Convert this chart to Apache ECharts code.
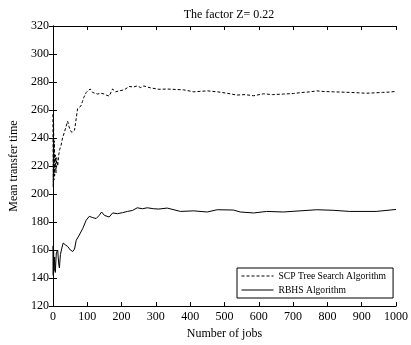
<!DOCTYPE html>
<html>
<head>
<meta charset="utf-8">
<script src="https://cdn.jsdelivr.net/npm/echarts@6/dist/echarts.min.js"></script>
<style>
  html, body { margin: 0; padding: 0; background: #fff; }
  #chart { width: 411px; height: 345px; }
</style>
</head>
<body>
<div id="chart"></div>
<script>
// Number of jobs / mean transfer time
const scpJobs = [0, 1, 2, 3, 4, 5, 7, 9, 11, 14, 17, 20, 24, 28, 34, 38, 43, 47, 51, 55, 58, 63, 68, 72, 77, 82, 86, 90, 97, 103, 109, 116, 123, 130, 140, 150, 157, 164, 170, 174, 183, 193, 208, 222, 235, 246, 256, 265, 285, 309, 333, 381, 410, 450, 480, 507, 536, 560, 585, 614, 640, 672, 701, 725, 750, 769, 790, 817, 840, 865, 890, 913, 940, 961, 980, 1000];
const scpTime = [257, 205, 250, 210, 238, 213, 228, 215, 226, 220, 228, 232, 235, 240, 244.5, 248, 252, 248, 245.6, 244, 243, 245.6, 254, 261, 262, 263, 266, 269, 272.5, 274, 275, 272.5, 272, 271.4, 272, 271.4, 270.5, 270, 273, 275, 273, 273.7, 274.4, 276.8, 276.5, 277.2, 276, 277.2, 275.8, 274.8, 275, 274.4, 273, 273.7, 273, 272, 270.7, 271, 270.2, 271.6, 271, 271.4, 271.8, 272.5, 273, 273.7, 273.2, 273, 272.8, 272.6, 272.3, 272, 272.3, 272.6, 272.8, 273.3];

const rbhsJobs = [0, 1, 2, 3, 5, 7, 10, 14, 17, 19, 22, 26, 30, 36, 43, 51, 58, 63, 68, 77, 87, 97, 106, 116, 126, 135, 142, 150, 164, 174, 188, 203, 217, 232, 246, 261, 275, 294, 309, 333, 372, 410, 450, 479, 526, 546, 585, 623, 672, 720, 769, 817, 865, 942, 1000];
const rbhsTime = [163, 142, 160, 145, 155, 144, 158, 160, 150, 147.3, 156.8, 161.4, 165, 163.8, 162.6, 160, 159, 160.7, 167, 170.8, 175.4, 181.3, 184.1, 183.2, 182.5, 184.8, 187.2, 184.8, 183.6, 186.5, 186, 186.7, 187.6, 188.3, 190.2, 189.5, 190.2, 189.5, 189.3, 190, 187.6, 188, 187.2, 188.8, 188.6, 187.2, 186.5, 187.6, 187.2, 188, 188.8, 188.4, 187.6, 187.6, 189];

const xTicks = [0, 100, 200, 300, 400, 500, 600, 700, 800, 900, 1000];
const yTicks = [120, 140, 160, 180, 200, 220, 240, 260, 280, 300, 320];

const FONT = "Liberation Serif";

const pairs = (xs, ys) => xs.map((x, i) => [x, ys[i]]);

const chart = echarts.init(document.getElementById("chart"));

const boxAxis = {
  axisLine: { show: true, lineStyle: { color: "#000", width: 1 } },
  axisTick: { show: true, inside: true, length: 4, lineStyle: { color: "#000" } },
  splitLine: { show: false }
};

chart.setOption({
  animation: false,
  backgroundColor: "#fff",
  textStyle: { fontFamily: FONT, color: "#000" },
  title: {
    text: "The factor Z= 0.22",
    left: 224, top: 4,
    textAlign: "center",
    textStyle: { fontFamily: FONT, fontSize: 12, fontWeight: "normal", color: "#000" }
  },
  grid: { left: 52, right: 14, top: 26, bottom: 34 },
  legend: {
    orient: "vertical",
    left: 237, top: 268,
    padding: [3, 7, 3, 4],
    itemGap: 4,
    itemWidth: 32,
    itemHeight: 11,
    itemTextGap: 2,
    itemStyle: { opacity: 0 },
    lineStyle: { width: 1 },
    borderColor: "#000",
    borderWidth: 1,
    borderRadius: 0,
    backgroundColor: "#fff",
    textStyle: { fontFamily: FONT, fontSize: 9.6, color: "#000" },
    data: ["SCP Tree Search Algorithm", "RBHS Algorithm"]
  },
  xAxis: [
    {
      type: "value", min: 0, max: 1000, interval: 100,
      name: "Number of jobs", nameLocation: "middle", nameGap: 21,
      nameTextStyle: { fontFamily: FONT, fontSize: 12, color: "#000" },
      axisLine: boxAxis.axisLine,
      splitLine: boxAxis.splitLine,
      axisLabel: { fontFamily: FONT, fontSize: 12, color: "#000", margin: 5,
        customValues: xTicks, formatter: (v) => String(v) },
      axisTick: { show: true, inside: true, length: 4, lineStyle: { color: "#000" }, customValues: xTicks }
    },
    Object.assign({
      type: "value", min: 0, max: 1000, interval: 100, position: "top",
      axisLabel: { show: false }
    }, boxAxis)
  ],
  yAxis: [
    {
      type: "value", min: 120, max: 320, interval: 20,
      name: "Mean transfer time", nameLocation: "middle", nameGap: 24,
      nameTextStyle: { fontFamily: FONT, fontSize: 12, color: "#000" },
      axisLine: boxAxis.axisLine,
      splitLine: boxAxis.splitLine,
      axisLabel: { fontFamily: FONT, fontSize: 12, color: "#000", margin: 4,
        customValues: yTicks, formatter: (v) => String(v) },
      axisTick: { show: true, inside: true, length: 4, lineStyle: { color: "#000" }, customValues: yTicks }
    },
    Object.assign({
      type: "value", min: 120, max: 320, interval: 20, position: "right",
      axisLabel: { show: false }
    }, boxAxis)
  ],
  series: [
    {
      name: "SCP Tree Search Algorithm",
      type: "line",
      data: pairs(scpJobs, scpTime),
      symbol: "none",
      itemStyle: { color: "#000" },
      lineStyle: { color: "#000", width: 1, type: [3, 2] }
    },
    {
      name: "RBHS Algorithm",
      type: "line",
      data: pairs(rbhsJobs, rbhsTime),
      symbol: "none",
      itemStyle: { color: "#000" },
      lineStyle: { color: "#000", width: 1 }
    }
  ]
});
</script>
</body>
</html>
